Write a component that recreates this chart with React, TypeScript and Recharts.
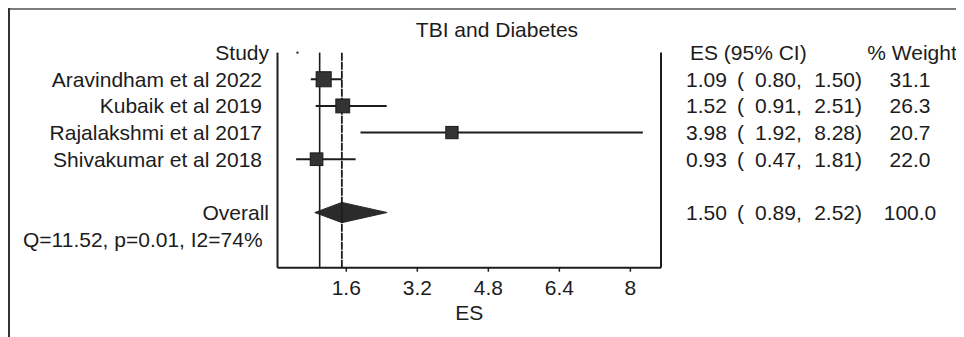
import {
  ReferenceArea,
  ReferenceDot,
  ReferenceLine,
  Scatter,
  ScatterChart,
  XAxis,
  YAxis,
} from "recharts";

const studies = [
  "Aravindham et al 2022",
  "Kubaik et al 2019",
  "Rajalakshmi et al 2017",
  "Shivakumar et al 2018",
];
const effectSizes = [1.09, 1.52, 3.98, 0.93];
const ciLower = [0.8, 0.91, 1.92, 0.47];
const ciUpper = [1.5, 2.51, 8.28, 1.81];
const weights = [31.1, 26.3, 20.7, 22.0];

const overallEs = 1.5;
const overallLower = 0.89;
const overallUpper = 2.52;
const overallWeight = 100.0;
const heterogeneity = "Q=11.52, p=0.01, I2=74%";

const nullEffect = 1;
const xTicks = [1.6, 3.2, 4.8, 6.4, 8];

const HEADER_ROW = 0;
const OVERALL_ROW = 6;
const STATS_ROW = 7;

const FONT = '"Liberation Sans", Arial, Helvetica, sans-serif';
const INK = "#1c1c1c";
const textStyle = { fontFamily: FONT, fontSize: 21, fill: INK };

const rows = studies.map((study, i) => ({
  study,
  row: i + 1,
  es: effectSizes[i],
  lo: ciLower[i],
  hi: ciUpper[i],
  weight: weights[i],
}));

const fmt = (v: number) => v.toFixed(2);

// square area grows with the study weight
function WeightedSquare(props: any) {
  const { cx, cy, payload } = props;
  const side = 2.7 * Math.sqrt(payload.weight);
  return (
    <rect
      x={cx - side / 2}
      y={cy - side / 2}
      width={side}
      height={side}
      fill="#333"
      stroke="#1a1a1a"
      strokeWidth={1}
    />
  );
}

// pooled estimate: diamond spanning the CI, widest point at the estimate
function PooledDiamond(props: any) {
  const { x, y, width, height } = props;
  const f = (overallEs - overallLower) / (overallUpper - overallLower);
  const mx = x + width * f;
  const my = y + height / 2;
  const pts = `${x},${my} ${mx},${y} ${x + width},${my} ${mx},${y + height}`;
  return <polygon points={pts} fill="#2b2b2b" stroke="#2b2b2b" strokeWidth={1} />;
}

function StudyTick(props: any) {
  const { x, y, payload } = props;
  const row = payload.value;
  if (row === STATS_ROW) {
    return (
      <text x={15} y={y} dy="0.36em" textAnchor="start" {...textStyle}>
        {heterogeneity}
      </text>
    );
  }
  let label = "";
  let dx = -15.5;
  if (row === HEADER_ROW) {
    label = "Study";
    dx = -8.5;
  } else if (row === OVERALL_ROW) {
    label = "Overall";
    dx = -8.5;
  } else {
    label = rows[row - 1].study;
  }
  return (
    <text x={x + dx} y={y} dy="0.36em" textAnchor="end" {...textStyle}>
      {label}
    </text>
  );
}

function EstimateTick(props: any) {
  const { x, y, payload } = props;
  const row = payload.value;
  if (row === HEADER_ROW) {
    return (
      <g>
        <text x={x + 29} y={y} dy="0.36em" textAnchor="start" {...textStyle}>
          ES (95% CI)
        </text>
        <text x={x + 251} y={y} dy="0.36em" textAnchor="middle" {...textStyle}>
          % Weight
        </text>
      </g>
    );
  }
  const d =
    row === OVERALL_ROW
      ? { es: overallEs, lo: overallLower, hi: overallUpper, weight: overallWeight }
      : rows[row - 1];
  return (
    <g>
      <text x={x + 25} y={y} dy="0.36em" textAnchor="start" {...textStyle}>
        {fmt(d.es)}
      </text>
      <text x={x + 76} y={y} dy="0.36em" textAnchor="start" {...textStyle}>
        (
      </text>
      <text x={x + 94} y={y} dy="0.36em" textAnchor="start" {...textStyle}>
        {fmt(d.lo)},
      </text>
      <text x={x + 201} y={y} dy="0.36em" textAnchor="end" {...textStyle}>
        {fmt(d.hi)})
      </text>
      <text x={x + 249} y={y} dy="0.36em" textAnchor="middle" {...textStyle}>
        {d.weight.toFixed(1)}
      </text>
    </g>
  );
}

const yDomain: [number, number] = [0, 8.07];
const leftTicks = [HEADER_ROW, 1, 2, 3, 4, OVERALL_ROW, STATS_ROW];
const rightTicks = [HEADER_ROW, 1, 2, 3, 4, OVERALL_ROW];

export default function App() {
  return (
    <div style={{ position: "relative", width: 956, height: 329 }}>
      <div
        style={{
          position: "absolute",
          left: 0,
          top: 0,
          width: 956,
          height: 2,
          background: "#7d7d7d",
        }}
      />
      <div
        style={{
          position: "absolute",
          left: 0,
          top: 0,
          width: 2,
          height: 329,
          background: "#333",
        }}
      />
      <div
        style={{
          position: "absolute",
          left: 389,
          top: 10,
          width: 200,
          lineHeight: "24px",
          textAlign: "center",
          fontFamily: FONT,
          fontSize: 21,
          color: INK,
        }}
      >
        TBI and Diabetes
      </div>
      <ScatterChart
        width={956}
        height={329}
        margin={{ top: 44.6, right: 0, bottom: 19.3, left: 0 }}
      >
        <XAxis
          type="number"
          dataKey="es"
          domain={[0.05, 8.69]}
          ticks={xTicks}
          allowDataOverflow
          interval={0}
          height={50}
          tickSize={4}
          tickMargin={8}
          tick={textStyle}
          axisLine={{ stroke: INK, strokeWidth: 2 }}
          tickLine={{ stroke: INK, strokeWidth: 1.5 }}
          label={{
            value: "ES",
            position: "insideBottom",
            offset: -2,
            style: textStyle,
          }}
        />
        <YAxis
          yAxisId="left"
          type="number"
          dataKey="row"
          domain={yDomain}
          reversed
          allowDataOverflow
          ticks={leftTicks}
          interval={0}
          width={269.5}
          tickSize={0}
          tickMargin={0}
          tickLine={false}
          tick={<StudyTick />}
          axisLine={{ stroke: INK, strokeWidth: 2 }}
        />
        <YAxis
          yAxisId="right"
          orientation="right"
          type="number"
          dataKey="row"
          domain={yDomain}
          reversed
          allowDataOverflow
          ticks={rightTicks}
          interval={0}
          width={303}
          tickSize={0}
          tickMargin={0}
          tickLine={false}
          tick={<EstimateTick />}
          axisLine={{ stroke: INK, strokeWidth: 2 }}
        />
        <ReferenceLine
          yAxisId="left"
          x={nullEffect}
          stroke={INK}
          strokeWidth={1.6}
        />
        <ReferenceLine
          yAxisId="left"
          x={overallEs}
          stroke={INK}
          strokeWidth={1.8}
          strokeDasharray="8 1"
        />
        {rows.map((r) => (
          <ReferenceLine
            key={r.study}
            yAxisId="left"
            segment={[
              { x: r.lo, y: r.row },
              { x: r.hi, y: r.row },
            ]}
            stroke={INK}
            strokeWidth={2}
          />
        ))}
        <ReferenceArea
          yAxisId="left"
          x1={overallLower}
          x2={overallUpper}
          y1={OVERALL_ROW - 0.38}
          y2={OVERALL_ROW + 0.38}
          shape={<PooledDiamond />}
        />
        <ReferenceDot
          yAxisId="left"
          x={0.5}
          y={HEADER_ROW}
          r={1.2}
          fill="#333"
          stroke="none"
        />
        <Scatter
          yAxisId="left"
          data={rows}
          dataKey="row"
          shape={<WeightedSquare />}
          isAnimationActive={false}
        />
      </ScatterChart>
    </div>
  );
}
